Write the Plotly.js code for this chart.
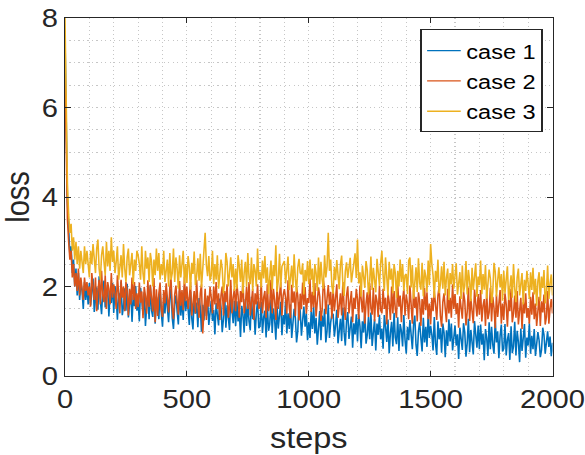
<!DOCTYPE html>
<html>
<head>
<meta charset="utf-8">
<script src="https://cdn.plot.ly/plotly-3.0.1.min.js"></script>
<style>
html,body{margin:0;padding:0;background:#fff;}
#wrap{width:585px;height:455px;overflow:hidden;position:relative;}
#plot{width:522px;height:455px;transform:scaleX(1.1207);transform-origin:0 0;}
</style>
</head>
<body>
<div id="wrap"><div id="plot"></div></div>
<script>
const case1 = [
7.6,5.0,3.9,3.3,2.7,2.9,2.3,2.6,2.0,2.4,1.8,2.3,1.7,2.1,1.9,1.5,2.1,1.7,2.0,1.6,
2.08,1.58,1.83,2.18,1.43,1.73,1.98,1.48,2.23,1.68,1.38,1.93,2.13,1.53,1.78,2.03,1.33,1.88,1.63,2.08,
1.41,2.01,1.76,1.26,1.86,1.61,2.11,1.36,1.56,1.96,1.46,2.06,1.31,1.71,1.91,1.21,1.81,1.56,2.01,1.46,
1.67,1.22,1.97,1.72,1.37,1.87,1.12,1.57,1.82,1.27,2.02,1.47,1.32,1.92,1.17,1.77,1.62,1.27,1.97,1.42,
1.1,1.7,1.4,1.85,1.55,1.2,1.75,1.95,1.3,1.05,1.6,1.8,1.45,1.15,1.9,1.35,1.7,1.25,2.0,1.45,
1.69,1.49,1.14,1.89,1.29,1.04,1.79,1.39,1.64,1.09,1.74,1.54,0.99,1.59,1.24,1.84,1.34,1.74,1.14,1.49,
1.68,1.23,1.48,0.93,1.63,1.38,1.13,1.73,1.53,0.98,1.28,1.83,1.08,1.58,1.33,1.03,1.78,1.43,1.18,1.68,
1.12,1.67,1.22,1.47,0.87,1.57,1.37,0.97,1.72,1.12,1.62,1.22,1.02,1.77,1.27,1.52,0.92,1.42,1.67,1.07,
1.11,1.66,0.96,1.31,1.46,0.86,1.61,1.01,1.16,1.71,0.96,1.51,1.26,0.81,1.56,1.06,1.41,1.66,0.91,1.36,
1.15,1.7,0.95,1.4,1.05,1.6,0.85,1.15,1.5,1.3,0.75,1.0,1.65,1.45,0.9,1.25,1.55,1.1,1.4,0.8,
1.2,0.85,1.45,1.05,1.55,0.95,1.3,0.7,1.25,1.45,0.8,1.35,1.1,1.5,0.75,1.0,1.6,0.85,1.2,1.4,
1.38,0.88,1.13,1.48,0.73,1.03,1.28,0.78,1.53,0.98,0.68,1.23,1.43,0.83,1.08,1.33,0.63,1.18,0.93,1.38,
0.77,1.37,1.12,0.62,1.22,0.97,1.47,0.72,0.92,1.32,0.82,1.42,0.67,1.07,1.27,0.57,1.17,0.92,1.37,0.82,
1.06,0.61,1.36,1.11,0.76,1.26,0.51,0.96,1.21,0.66,1.41,0.86,0.71,1.31,0.56,1.16,1.01,0.66,1.36,0.81,
0.5,1.1,0.8,1.25,0.95,0.6,1.15,1.35,0.7,0.45,1.0,1.2,0.85,0.55,1.3,0.75,1.1,0.65,1.4,0.85,
1.12,0.92,0.57,1.32,0.72,0.47,1.22,0.82,1.07,0.52,1.17,0.97,0.42,1.02,0.67,1.27,0.77,1.17,0.57,0.92,
1.13,0.68,0.93,0.38,1.08,0.83,0.58,1.18,0.98,0.43,0.73,1.28,0.53,1.03,0.78,0.48,1.23,0.88,0.63,1.13,
0.6,1.15,0.7,0.95,0.35,1.05,0.85,0.45,1.2,0.6,1.1,0.7,0.5,1.25,0.75,1.0,0.4,0.9,1.15,0.55,
0.61,1.16,0.46,0.81,0.96,0.36,1.11,0.51,0.66,1.21,0.46,1.01,0.76,0.31,1.06,0.56,0.91,1.16,0.41,0.86,
0.68,1.18,0.5,0.9,0.6,1.05,0.45,0.68,0.98,0.8,0.42,0.58,1.08,0.92,0.5,0.75,1.0,0.65,0.88,0.44,
0.74,0.48,0.95,0.62,1.0,0.55,0.82,0.42,0.78,0.95,0.45,0.86,0.66,0.98,0.44,0.6,1.02,0.5,0.74,0.9,
0.98];
const case2 = [
6.7,4.5,3.5,3.0,2.6,2.8,2.2,2.5,2.0,2.3,1.9,2.4,1.8,2.2,2.0,1.7,2.2,1.9,2.1,1.8,
2.0,1.55,2.3,2.05,1.7,2.2,1.45,1.9,2.15,1.6,2.35,1.8,1.65,2.25,1.5,2.1,1.95,1.6,2.3,1.75,
2.05,1.85,1.5,2.25,1.65,1.4,2.15,1.75,2.0,1.45,2.1,1.9,1.35,1.95,1.6,2.2,1.7,2.1,1.5,1.85,
1.54,2.09,1.64,1.89,1.29,1.99,1.79,1.39,2.14,1.54,2.04,1.64,1.44,2.19,1.2,1.94,1.34,1.84,2.09,1.49,
1.32,1.92,1.62,2.07,1.77,1.42,1.97,2.17,1.52,1.27,1.82,2.02,1.67,1.37,2.12,1.57,1.92,1.47,2.22,1.67,
2.0,1.5,1.75,2.1,1.35,1.65,1.9,1.4,2.15,1.6,1.3,1.85,2.05,0.95,1.7,1.95,1.25,1.8,1.55,2.0,
1.75,1.4,2.0,1.6,2.1,1.5,1.85,1.25,1.8,2.0,1.35,1.9,1.65,2.05,1.3,1.55,2.15,1.4,1.75,1.95,
1.45,2.05,1.8,1.3,1.9,1.65,2.15,1.4,1.6,2.0,1.5,2.1,1.35,1.75,1.95,1.25,1.85,1.6,2.05,1.5,
1.55,2.1,1.4,1.75,1.9,1.3,2.05,1.45,1.6,2.15,1.4,1.95,1.7,1.25,2.0,1.5,1.85,2.1,1.35,1.8,
1.94,1.74,1.39,2.14,1.54,1.29,2.04,1.64,1.89,1.34,1.99,1.79,1.24,1.84,1.49,2.09,1.59,1.99,1.39,1.74,
1.63,2.18,1.43,1.88,1.53,2.08,1.33,1.63,1.98,1.78,1.23,1.48,2.13,1.93,1.38,1.73,2.03,1.58,1.88,1.28,
1.95,1.45,1.7,2.05,1.3,1.6,1.85,1.35,2.1,1.55,1.25,1.8,2.0,1.4,1.65,1.9,1.2,1.75,1.5,1.95,
1.72,1.27,2.02,1.77,1.42,1.92,1.17,1.62,1.87,1.32,2.07,1.52,1.37,1.97,1.22,1.82,1.67,1.32,2.02,1.47,
1.4,1.95,1.5,1.75,1.15,1.85,1.65,1.25,2.0,1.4,1.9,1.5,1.3,2.05,1.55,1.8,1.2,1.7,1.95,1.35,
1.82,1.62,1.27,2.02,1.42,1.17,1.92,1.52,1.77,1.22,1.87,1.67,1.12,1.72,1.37,1.97,1.47,1.87,1.27,1.62,
1.15,1.75,1.45,1.9,1.6,1.25,1.8,2.0,1.35,1.1,1.65,1.85,1.5,1.2,1.95,1.4,1.75,1.3,2.05,1.5,
1.83,1.38,1.63,1.08,1.78,1.53,1.28,1.88,1.68,1.13,1.43,1.98,1.23,1.73,1.48,1.18,1.93,1.58,1.33,1.83,
1.37,1.92,1.22,1.57,1.72,1.12,1.87,1.27,1.42,1.97,1.22,1.77,1.52,1.07,1.82,1.32,1.67,1.92,1.17,1.62,
1.25,1.85,1.6,1.1,1.7,1.45,1.95,1.2,1.4,1.8,1.3,1.9,1.15,1.55,1.75,1.05,1.65,1.4,1.85,1.3,
1.52,1.17,1.77,1.37,1.87,1.27,1.62,1.12,1.57,1.77,1.12,1.67,1.42,1.82,1.15,1.32,1.9,1.17,1.52,1.72,
1.4,1.9,1.2,1.65,1.3,1.85,1.15,1.4,1.75,1.55,1.12,1.25,1.88,1.7,1.15,1.5,1.8,1.35,1.65,1.2,
1.3];
const case3 = [
8.0,5.7,4.3,3.6,3.2,3.4,2.8,3.1,2.6,3.0,2.5,2.9,2.4,2.8,2.6,2.3,2.9,2.5,2.8,2.4,
2.2,2.8,2.5,2.95,2.65,2.3,2.85,3.05,2.4,2.15,2.7,2.9,2.55,2.25,3.0,2.45,2.8,2.35,3.1,2.55,
2.8,2.3,2.55,2.9,2.15,2.45,2.7,2.2,2.95,2.4,2.1,2.65,2.85,2.25,2.5,2.75,2.05,2.6,2.35,2.8,
2.7,2.5,2.15,2.9,2.3,2.05,2.8,2.4,2.65,2.1,2.75,2.55,2.0,2.6,2.25,2.85,2.35,2.75,2.15,2.5,
2.25,2.8,2.1,2.45,2.6,2.0,2.75,2.15,2.3,2.85,2.1,2.65,2.4,1.95,2.7,2.2,2.55,2.8,2.05,2.5,
2.08,2.68,2.43,1.93,2.53,2.28,2.78,2.03,2.23,2.63,2.13,2.73,1.98,2.38,2.58,3.2,2.48,2.23,2.68,2.13,
2.25,2.8,2.05,2.5,2.15,2.7,1.95,2.25,2.6,2.4,1.85,2.1,2.75,2.55,2.0,2.3,2.65,2.2,2.5,1.9,
2.4,1.95,2.7,2.45,2.1,2.6,1.85,2.3,2.55,2.0,2.75,2.2,2.05,2.65,1.9,2.5,2.35,2.0,2.85,2.15,
2.33,1.98,2.58,2.18,2.68,2.08,2.43,1.83,2.38,2.58,1.93,2.48,2.23,2.92,1.88,2.13,2.73,1.98,2.45,2.53,
2.57,2.07,2.32,2.67,1.92,2.22,2.47,1.97,2.72,2.17,1.87,2.42,2.62,2.3,2.27,2.52,1.82,2.37,2.12,2.57,
2.05,2.6,2.15,2.4,1.8,2.5,2.3,1.9,2.65,2.05,2.55,2.15,1.95,2.7,2.2,2.45,3.2,2.35,2.6,2.0,
1.84,2.44,2.14,2.59,2.29,1.94,2.49,2.69,2.04,1.79,2.34,2.54,2.19,2.39,2.64,2.09,2.3,2.44,2.74,2.19,
3.05,2.07,2.32,1.77,2.47,2.22,1.97,2.57,2.37,1.82,2.12,2.67,1.92,2.42,2.17,1.87,2.62,2.27,2.02,2.52,
2.8,2.25,1.9,2.65,2.05,1.8,2.55,2.15,2.4,1.85,2.5,2.3,1.75,2.35,2.0,2.6,2.1,2.5,1.9,2.25,
2.28,1.83,2.58,2.65,1.98,2.48,1.73,2.18,2.43,1.88,2.63,2.08,1.93,2.53,1.78,2.38,2.23,1.88,2.58,2.03,
2.95,2.5,2.25,1.75,2.35,2.1,2.6,1.85,2.05,2.45,1.95,2.55,1.8,2.2,2.4,1.7,2.3,2.05,2.5,1.95,
2.3,2.52,1.82,2.17,2.32,1.72,2.47,1.87,2.02,2.57,1.82,2.37,2.12,1.67,2.42,1.92,2.27,2.52,1.77,2.22,
2.03,2.58,1.83,2.28,1.93,2.48,1.73,2.03,2.38,2.18,1.63,1.88,2.53,2.33,1.78,2.13,2.43,1.98,2.28,1.68,
2.35,1.85,2.1,2.45,1.7,2.0,2.25,1.75,2.5,1.95,1.65,2.2,2.4,1.8,2.05,2.3,1.6,2.15,1.9,2.35,
2.07,1.72,2.32,1.92,2.42,1.82,2.17,1.57,2.12,2.32,1.67,2.22,1.97,2.37,1.62,1.87,2.47,1.72,2.07,2.27,
1.8,2.35,1.9,2.15,1.55,2.25,2.05,1.65,2.4,1.8,2.3,1.9,1.7,2.45,1.95,2.2,1.6,2.1,2.35,1.75,
2.5];
const seriesNames = ['case 1','case 2','case 3'];
const seriesColors = ['#0072BD','#D95319','#EDB120'];
const xTicks = [0,500,1000,1500,2000];
const yTicks = [0,2,4,6,8];

const FONT = '"Liberation Sans", Arial, Helvetica, sans-serif';
const INK = '#262626';
const GRID = '#c6c6c6';
const DOTS = '1px,3px';

const traces = [case1, case2, case3].map((ys, i) => ({
  type: 'scatter', mode: 'lines',
  x0: 0, dx: 5, y: ys,
  name: seriesNames[i],
  line: {color: seriesColors[i], width: 1.4}
}));

const axisCommon = {
  showline: true, linecolor: INK, linewidth: 1, mirror: 'ticks',
  ticks: 'inside', ticklen: 5, tickwidth: 1, tickcolor: INK,
  showgrid: true, gridcolor: GRID, griddash: DOTS, gridwidth: 1,
  zeroline: false,
  tickfont: {family: FONT, size: 26, color: INK}
};

const layout = {
  width: 522, height: 455,
  margin: {l: 58, r: 29, t: 18, b: 79},
  paper_bgcolor: '#fff', plot_bgcolor: '#fff',
  font: {family: FONT, color: INK},
  showlegend: true,
  xaxis: Object.assign({}, axisCommon, {
    range: [0, 2000], tickmode: 'array', tickvals: xTicks,
    minor: {dtick: 100, showgrid: true, gridcolor: GRID, griddash: DOTS, gridwidth: 1},
    title: {text: 'steps', font: {family: FONT, size: 29, color: INK}, standoff: 14}
  }),
  yaxis: Object.assign({}, axisCommon, {
    range: [0, 8], tickmode: 'array', tickvals: yTicks,
    minor: {dtick: 0.5, showgrid: true, gridcolor: GRID, griddash: DOTS, gridwidth: 1},
    title: {text: 'loss', font: {family: FONT, size: 29, color: INK}, standoff: 8}
  }),
  legend: {
    x: 0.729, y: 0.968, xanchor: 'left', yanchor: 'top',
    bgcolor: '#fff', bordercolor: INK, borderwidth: 1,
    font: {family: FONT, size: 21, color: '#000'},
    itemwidth: 30, tracegroupgap: 0
  }
};

Plotly.newPlot('plot', traces, layout, {displayModeBar: false, staticPlot: true});
</script>
</body>
</html>
